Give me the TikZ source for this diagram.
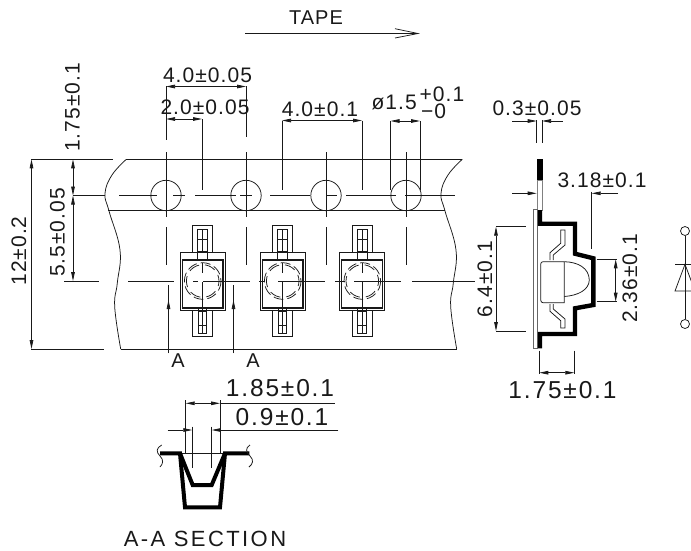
\documentclass[tikz,border=0pt]{standalone}
\usepackage{fontspec}
\setmainfont{Liberation Sans}[LetterSpace=5]
\usetikzlibrary{arrows.meta}
\definecolor{ink}{gray}{0.1}
\tikzset{
  thin line/.style={line width=0.75pt,draw=ink},
  dimarrow/.style={thin line,-{Stealth[length=9pt,width=3.6pt,inset=0pt]}},
  heavy/.style={line width=4.4pt,draw=black,line join=miter},
  dimtext/.style={inner sep=0pt,text=ink,font=\fontsize{21}{22}\selectfont},
  bigtext/.style={inner sep=0pt,text=ink,font=\addfontfeature{LetterSpace=7.5}\fontsize{24.5}{25}\selectfont},
  lettertext/.style={inner sep=0pt,text=ink,font=\fontsize{20}{21}\selectfont},
  sectext/.style={inner sep=0pt,text=ink,font=\addfontfeature{LetterSpace=11}\fontsize{22}{23}\selectfont},
}
\begin{document}
\begin{tikzpicture}[x=1pt,y=-1pt]
\useasboundingbox (0,0) rectangle (691,550);
\clip (0,0) rectangle (691,550);
% tape direction
\node[lettertext] (tape) at (316,18) {TAPE};
\coordinate (tapeA) at (245,33.5);
\coordinate (tapeB) at (418,33.5);
\draw[thin line] (tapeA) -- (tapeB) (395,28.7) -- (tapeB) -- (395,38);
% tape outline
\draw[thin line] (31,159.3) -- (113,159.3);
\draw[thin line] (126,159.3) -- (462.3,159.3);
\draw[thin line] (108,210.8) -- (445,210.8);
\draw[thin line] (31,349) -- (104,349);
\draw[thin line] (120.7,349) -- (456.7,349);
\draw[thin line] (73,195.5) -- (105,195.5);
\foreach \d in {0,336}{
  \draw[thin line,xshift=\d pt] plot[smooth,tension=0.7] coordinates {(126.3,159.3) (112,175) (105,193.3) (109,211) (120,250) (117.3,283) (114.7,306.7) (120.7,349)};
}
% holes
\foreach \h in {166,246,326,406}{
  \draw[thin line] (\h,195.5) circle[radius=15.2];
  \draw[thin line] (\h,152) -- (\h,217);
  \draw[thin line] (\h,227) -- (\h,265);
}
\draw[thin line] (166,86) -- (166,140) (246,86) -- (246,137);
% hole centre lines
\foreach \a/\b in {119/157,173/185,195/236,240/252,270/310,326/337,346/396,405/420,420/455}{
  \draw[thin line] (\a,195.5) -- (\b,195.5);
}
% main centre line
\foreach \a/\b in {64/99,128/174,193/198,203/250,259/265,278/325,335/345,354/401,412/475}{
  \draw[thin line] (\a,281) -- (\b,281);
}
% components
\foreach \c in {202.7,282.7,362.3}{
  \begin{scope}[xshift=\c pt]
    \draw[thin line] (-10.3,252.5) -- (-10.3,225) -- (9.7,225) -- (9.7,252.5);
    \draw[thin line] (-5,260) -- (-5,229.5) -- (4.7,229.5) -- (4.7,260);
    \draw[thin line] (-5,239.5) -- (4.7,239.5) (-5,251.5) -- (4.7,251.5);
    \draw[thin line] (-0.4,229.5) -- (-0.4,251.5);
    \draw[thin line] (-22.7,252.5) rectangle (22.3,310.3);
    \draw[line width=1.1pt,draw=ink] (-20.5,260) rectangle (20.3,308);
    \draw[thin line] (-10.3,310.3) -- (-10.3,336.7) -- (9.7,336.7) -- (9.7,310.3);
    \draw[thin line] (-4.5,308) -- (-4.5,333.3) -- (4,333.3) -- (4,308);
    \draw[thin line] (-4.5,325) -- (4,325) (-4.5,311.5) -- (4,311.5);
    \draw[thin line] (0,282) -- (0,333.3);
    \draw[thin line] (0,262.7) -- (0,273);
    \draw[thin line,dash pattern=on 10pt off 4pt] (0,281) circle[radius=18.3];
    \draw[thin line,dash pattern=on 11pt off 6pt,dash phase=6pt] (0,281) circle[radius=16.3];
  \end{scope}
}
% section arrows A
\coordinate (aL) at (168.5,353);
\draw[thin line] (aL) -- (168.5,285);
\draw[dimarrow] (aL) -- (168.5,300);
\coordinate (aR) at (233.5,353);
\draw[thin line] (aR) -- (233.5,285);
\draw[dimarrow] (aR) -- (233.5,300);
\node[lettertext] (labA1) at (178,360.5) {A};
\node[lettertext] (labA2) at (253,360.5) {A};
% top dimensions
\draw[dimarrow] (206,86.5) -- (166,86.5);
\draw[dimarrow] (206,86.5) -- (246,86.5);
\node[dimtext] (d40a) at (207.5,75) {4.0±0.05};
\draw[thin line] (202,119) -- (202,190);
\draw[dimarrow] (184,119) -- (166,119);
\draw[dimarrow] (184,119) -- (202,119);
\node[dimtext] (d20) at (205,107) {2.0±0.05};
\draw[thin line] (282,120.5) -- (282,190) (362,120.5) -- (362,190);
\draw[dimarrow] (322,120.5) -- (282,120.5);
\draw[dimarrow] (322,120.5) -- (362,120.5);
\node[dimtext] (d40b) at (320,109.5) {4.0±0.1};
\draw[thin line] (390.5,121) -- (390.5,190) (420,121) -- (420,190);
\draw[dimarrow] (405,121) -- (390.5,121);
\draw[dimarrow] (405,121) -- (420,121);
\node[dimtext,anchor=east] (d15) at (417,102.5) {ø1.5};
\node[dimtext,anchor=west] (d15p) at (419.5,94.5) {+0.1};
\node[dimtext,anchor=west] (d15m) at (421,111.5) {−0};
% left dimensions
\draw[dimarrow] (31.5,254) -- (31.5,159.3);
\draw[dimarrow] (31.5,254) -- (31.5,349);
\node[dimtext,rotate=90] (d12) at (19,251) {12±0.2};
\draw[dimarrow] (73,177) -- (73,159.3);
\draw[dimarrow] (73,177) -- (73,195.5);
\draw[dimarrow] (73,238) -- (73,195.5);
\draw[dimarrow] (73,238) -- (73,281);
\node[dimtext,rotate=90] (d55) at (57.5,232.5) {5.5±0.05};
\node[dimtext,rotate=90] (d175a) at (72.5,107.5) {1.75±0.1};
% side view
\draw[thin line] (536.7,120) -- (536.7,143) (542,120) -- (542,143);
\draw[dimarrow] (512,121) -- (536.7,121);
\draw[dimarrow] (562.7,121) -- (542,121);
\node[dimtext] (d03) at (537,108.7) {0.3±0.05};
\fill[black] (537.3,159.3) rectangle (542.6,180);
\draw[thin line,draw=gray] (537.7,180) rectangle (542.2,210);
\draw[thin line,draw=gray!80!black] (533.3,209.3) rectangle (537.5,348.3);
\draw[heavy] (540,210) -- (540,223.7) -- (575,223.7) -- (575,253.7) -- (593.3,258.3) -- (593.3,305) -- (575,308.3) -- (575,334) -- (540,334) -- (540,348.3);
% LED
\draw[thin line] (564.3,261.7) -- (543,261.7) to[out=180,in=90] (540.7,264) -- (540.7,300) to[out=-90,in=180] (543,302.7) -- (564.3,302.7) -- (564.3,261.7);
\draw[thin line] (564.3,261.7) .. controls (578,262) and (589,268) .. (589.3,280) .. controls (589,290) and (578,295.5) .. (564.3,296.5);
\draw[thin line] (550,260) -- (550,252.7) -- (560.7,243.3) -- (560.7,230) -- (565,230) -- (565,245) -- (553.3,255) -- (553.3,260);
\draw[thin line] (550,304) -- (550,311.3) -- (560.7,320.7) -- (560.7,328) -- (565,328) -- (565,319) -- (553.3,309) -- (553.3,304);
% side dimensions
\draw[dimarrow] (512,193.3) -- (536.7,193.3);
\draw[dimarrow] (618,193.3) -- (591.7,193.3);
\draw[thin line] (591.7,191.7) -- (591.7,249);
\node[dimtext] (d318) at (602,180) {3.18±0.1};
\draw[thin line] (496,226.7) -- (526,226.7) (496,331) -- (526,331);
\draw[dimarrow] (496,279) -- (496,226.7);
\draw[dimarrow] (496,279) -- (496,331);
\node[dimtext,rotate=90] (d64) at (485,279) {6.4±0.1};
\draw[thin line] (596.7,259.3) -- (616.7,259.3) (596.7,301.7) -- (616.7,301.7);
\draw[dimarrow] (615.7,280) -- (615.7,259.3);
\draw[dimarrow] (615.7,280) -- (615.7,301.7);
\node[dimtext,rotate=90] (d236) at (630,278.3) {2.36±0.1};
\draw[thin line] (539.3,350.7) -- (539.3,374) (574.3,350.7) -- (574.3,374);
\draw[dimarrow] (557,372.7) -- (539.3,372.7);
\draw[dimarrow] (557,372.7) -- (574.3,372.7);
\node[bigtext] (d175b) at (562.5,390) {1.75±0.1};
% diode
\node[circle,draw=ink,line width=0.75pt,minimum size=9pt,inner sep=0pt] (dA) at (685,231) {};
\node[circle,draw=ink,line width=0.75pt,minimum size=9pt,inner sep=0pt] (dK) at (685,324) {};
\draw[thin line] (dA) -- (dK);
\draw[thin line] (675,264.3) -- (695,264.3);
\draw[thin line] (697,291) -- (675,291) -- (685,264.3) -- (695,291);
% A-A section
\draw[thin line] (185.7,400) -- (185.7,453) (220,400) -- (220,453);
\draw[dimarrow] (203,403.3) -- (185.7,403.3);
\draw[dimarrow] (203,403.3) -- (220,403.3);
\draw[thin line] (220,403.3) -- (335,403.3);
\node[bigtext] (d185) at (280,388) {1.85±0.1};
\draw[thin line] (192.3,426.7) -- (192.3,468) (211.7,426.7) -- (211.7,468);
\draw[dimarrow] (167.7,430) -- (192.3,430);
\draw[dimarrow] (338.3,430) -- (211.7,430);
\node[bigtext] (d09) at (282,417) {0.9±0.1};
\draw[thin line] (180,453.3) -- (226,453.3);
\draw[line width=4pt,draw=black] (160,453.3) -- (180,453.3) -- (185,507.3) -- (220,507.3) -- (225,453.3) -- (249.3,453.3);
\draw[line width=4pt,draw=black] (180,453.3) -- (192.7,485) -- (211.7,485) -- (225,453.3);
\draw[thin line] (161.7,445) .. controls (156,448) and (156,452) .. (160,456) .. controls (164,460) and (163,464) .. (160,467);
\draw[thin line] (250,445) .. controls (245,448) and (246,452) .. (250,456) .. controls (254,460) and (253,464) .. (249,467);
\node[sectext,anchor=base] (secttl) at (205,546.5) {A-A SECTION};
\end{tikzpicture}
\end{document}
